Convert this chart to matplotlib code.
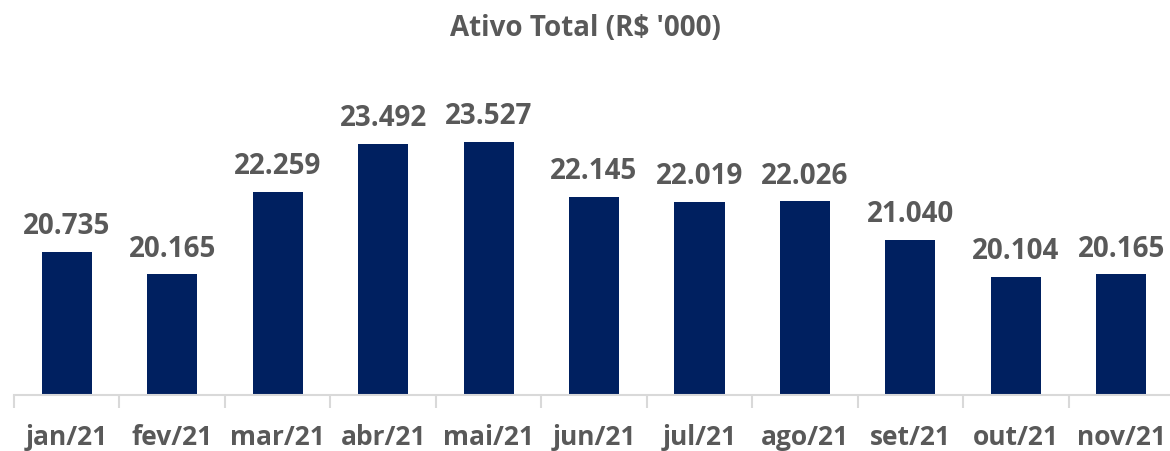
import matplotlib
matplotlib.use('Agg')
import matplotlib.pyplot as plt
import numpy as np

# Dados do gráfico
meses = ['jan/21', 'fev/21', 'mar/21', 'abr/21', 'mai/21', 'jun/21',
         'jul/21', 'ago/21', 'set/21', 'out/21', 'nov/21']
ativo_total = [20735, 20165, 22259, 23492, 23527, 22145,
               22019, 22026, 21040, 20104, 20165]

cor_barra = '#002060'
cor_texto = '#595959'

plt.rcParams['font.family'] = ['Open Sans', 'DejaVu Sans']

fig = plt.figure(figsize=(11.7, 4.52), dpi=100)
ax = fig.add_axes([14 / 1170, 56 / 452, 1160 / 1170, 352 / 452])

x = np.arange(len(meses))
ax.bar(x, ativo_total, width=0.475, color=cor_barra)

ax.set_xlim(-0.5, len(meses) - 0.5)
ax.set_ylim(17100, 26050)

# rótulos de valor, com ponto como separador de milhar
for xi, v in zip(x, ativo_total):
    txt = f'{v:,}'.replace(',', '.')
    ax.annotate(txt, (xi, v), xytext=(0, 13.5), textcoords='offset points',
                ha='center', va='baseline', fontsize=20, fontweight='bold',
                color=cor_texto)

# eixo: só a linha de base e ticks entre categorias
for s in ['top', 'right', 'left']:
    ax.spines[s].set_visible(False)
ax.spines['bottom'].set_color('#d9d9d9')
ax.spines['bottom'].set_linewidth(1.5)
ax.set_yticks([])

ax.set_xticks(np.arange(len(meses) + 1) - 0.5, minor=False)
ax.set_xticklabels([])
ax.tick_params(axis='x', length=9, width=1.5, color='#d9d9d9')
ax.set_xticks(x, minor=True)
ax.set_xticklabels(meses, minor=True, fontsize=19, fontweight='bold',
                   color=cor_texto)
ax.tick_params(axis='x', which='minor', length=0, pad=20)

fig.text(0.5, 1 - 28 / 452, "Ativo Total (R$ '000)", ha='center', va='center',
         fontsize=20, fontweight='bold', color=cor_texto)

fig.savefig('out.png', dpi=100)
